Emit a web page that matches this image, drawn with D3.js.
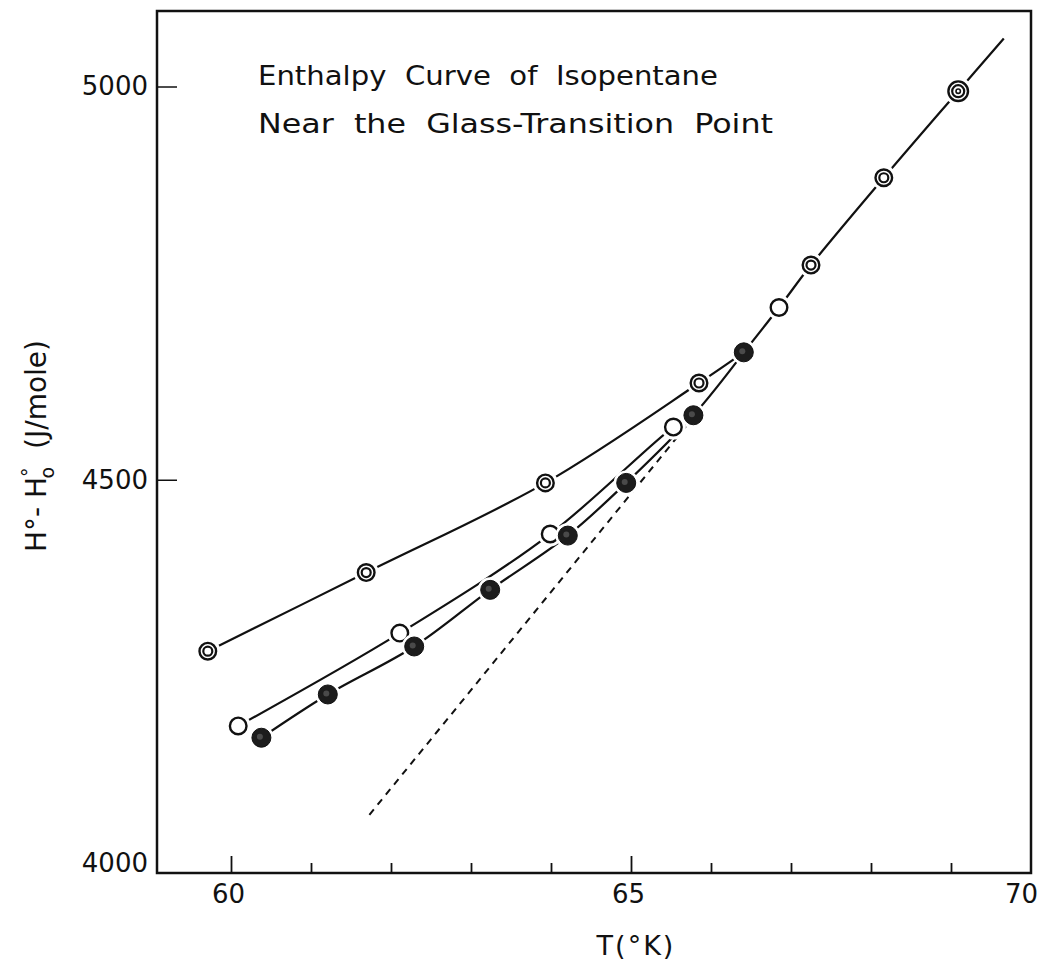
<!DOCTYPE html>
<html>
<head>
<meta charset="utf-8">
<script src="https://cdn.jsdelivr.net/npm/d3@7"></script>
<style>
  body { margin: 0; background: #fff; }
  svg text { font-family: "DejaVu Sans", sans-serif; fill: #111; }
</style>
</head>
<body>
<div id="chart"></div>
<script>
// values (T in K, H°-H°0 in J/mole)
const upperT = [59.71, 61.69, 63.93, 65.85, 66.41];      // double circles, upper branch
const upperH = [4282, 4382, 4496, 4623, 4662];
const middleT = [60.09, 62.11, 63.99, 65.53, 65.78];     // open circles
const middleH = [4187, 4305, 4431, 4567, 4582];
const lowerT = [60.38, 61.21, 62.29, 63.24, 64.21, 64.94, 65.78, 66.41]; // filled
const lowerH = [4172, 4227, 4288, 4360, 4429, 4496, 4582, 4662];
const liquidT = [66.41, 66.85, 67.25, 68.16, 69.09, 69.66];
const liquidH = [4662, 4719, 4773, 4884, 4994, 5061];
const liquidMark = ["filled", "open", "double", "double", "triple", "none"];
const dashT = [61.73, 65.72];
const dashH = [4074, 4572];

const xTicks = [60, 61, 62, 63, 64, 65, 66, 67, 68, 69];
const xLabels = [60, 65, 70];
const yLabels = [4000, 4500, 5000];
const yTicks = [4500, 5000];

const W = 1038, H = 968;
const m = { left: 157, right: 1031, top: 11, bottom: 873 };

const svg = d3.select("#chart").append("svg")
    .attr("width", W).attr("height", H);

const x = d3.scaleLinear().domain([59.075, 70]).range([m.left, m.right]);
const y = d3.scaleLinear().domain([4000, 5096]).range([m.bottom, m.top]);

// frame
svg.append("rect")
    .attr("x", m.left).attr("y", m.top)
    .attr("width", m.right - m.left).attr("height", m.bottom - m.top)
    .attr("fill", "none").attr("stroke", "#111").attr("stroke-width", 2.5);

// x ticks (pointing inward)
const xAxis = svg.append("g")
    .attr("transform", `translate(0,${m.bottom})`)
    .call(d3.axisBottom(x).tickValues(xTicks).tickSizeInner(-10).tickSizeOuter(0).tickFormat(""));
xAxis.select(".domain").remove();
xAxis.selectAll(".tick line")
    .attr("stroke", "#111").attr("stroke-width", 1.8)
    .attr("y2", d => (d % 5 === 0 ? -17 : -10));

const xLab = svg.append("g")
    .attr("transform", `translate(0,${m.bottom})`)
    .call(d3.axisBottom(x).tickValues(xLabels).tickSize(0).tickPadding(12).tickFormat(d3.format("d")));
xLab.select(".domain").remove();
xLab.selectAll("text")
    .attr("font-size", 26)
    .attr("dx", d => (d === 70 ? -10 : -3))
    .style("font-family", "DejaVu Sans");

// y ticks
const yAxis = svg.append("g")
    .attr("transform", `translate(${m.left},0)`)
    .call(d3.axisRight(y).tickValues(yTicks).tickSize(20).tickFormat(""));
yAxis.select(".domain").remove();
yAxis.selectAll(".tick line").attr("stroke", "#111").attr("stroke-width", 1.5);

const yLab = svg.append("g")
    .attr("transform", `translate(${m.left},0)`)
    .call(d3.axisLeft(y).tickValues(yLabels).tickSize(0).tickPadding(9).tickFormat(d3.format("d")));
yLab.select(".domain").remove();
yLab.selectAll("text")
    .attr("font-size", 26)
    .attr("dy", d => (d === 4000 ? "-0.05em" : "0.32em"))
    .style("font-family", "DejaVu Sans");

// axis titles
svg.append("text")
    .attr("x", 636).attr("y", 955)
    .attr("text-anchor", "middle")
    .attr("font-size", 27)
    .attr("letter-spacing", 2)
    .text("T(°K)");

const yt = svg.append("text")
    .attr("transform", "translate(46,446) rotate(-90)")
    .attr("text-anchor", "middle")
    .attr("font-size", 28);
yt.append("tspan").text("H°- H");
yt.append("tspan").attr("font-size", 19).attr("dy", -10).text("°");
yt.append("tspan").attr("font-size", 19).attr("dx", -11).attr("dy", 18).text("o");
yt.append("tspan").attr("dy", -8).style("white-space", "pre").text("  (J/mole)");

// chart title
const title = ["Enthalpy  Curve  of  Isopentane", "Near  the  Glass-Transition  Point"];
const titleLen = [460, 515];
title.forEach((t, i) => {
    svg.append("text")
        .attr("x", 258).attr("y", 85 + i * 48)
        .attr("font-size", 26)
        .attr("textLength", titleLen[i])
        .attr("lengthAdjust", "spacingAndGlyphs")
        .style("white-space", "pre")
        .text(t);
});

// lines
const zip = (ts, hs) => ts.map((t, i) => ({ t: t, h: hs[i] }));
const line = d3.line().x(d => x(d.t)).y(d => y(d.h)).curve(d3.curveCatmullRom.alpha(0.5));

svg.append("path")
    .attr("d", d3.line().x(d => x(d.t)).y(d => y(d.h))(zip(dashT, dashH)))
    .attr("fill", "none").attr("stroke", "#111").attr("stroke-width", 2)
    .attr("stroke-dasharray", "7,6");

[zip(upperT, upperH), zip(middleT, middleH), zip(lowerT, lowerH), zip(liquidT, liquidH)]
    .forEach(pts => {
        svg.append("path")
            .attr("d", line(pts))
            .attr("fill", "none").attr("stroke", "#111").attr("stroke-width", 2.2);
    });

// markers
const marks = [];
upperT.slice(0, -1).forEach((t, i) => marks.push({ t: t, h: upperH[i], k: "double" }));
middleT.slice(0, -1).forEach((t, i) => marks.push({ t: t, h: middleH[i], k: "open" }));
lowerT.forEach((t, i) => marks.push({ t: t, h: lowerH[i], k: "filled" }));
liquidT.slice(1).forEach((t, i) => marks.push({ t: t, h: liquidH[i + 1], k: liquidMark[i + 1] }));

const mg = svg.append("g");
marks.filter(d => d.k !== "none").forEach(d => {
    const cx = x(d.t), cy = y(d.h);
    const r = d.k === "triple" ? 11 : 9.5;
    // white halo so lines stop short of the marker
    mg.append("circle").attr("cx", cx).attr("cy", cy).attr("r", r + 3).attr("fill", "#fff");
    if (d.k === "filled") {
        mg.append("circle").attr("cx", cx).attr("cy", cy).attr("r", r)
            .attr("fill", "#1c1c1c").attr("stroke", "#111").attr("stroke-width", 1);
        mg.append("circle").attr("cx", cx - 1.5).attr("cy", cy - 1).attr("r", 3)
            .attr("fill", "#4a4a4a");
    } else {
        mg.append("circle").attr("cx", cx).attr("cy", cy).attr("r", r - 1.2)
            .attr("fill", "#fff").attr("stroke", "#111").attr("stroke-width", 2.4);
        if (d.k === "double" || d.k === "triple") {
            mg.append("circle").attr("cx", cx).attr("cy", cy).attr("r", r - 5)
                .attr("fill", "none").attr("stroke", "#111").attr("stroke-width", 2.2);
        }
        if (d.k === "triple") {
            mg.append("circle").attr("cx", cx).attr("cy", cy).attr("r", 2.2)
                .attr("fill", "none").attr("stroke", "#111").attr("stroke-width", 1.6);
        }
    }
});
</script>
</body>
</html>
